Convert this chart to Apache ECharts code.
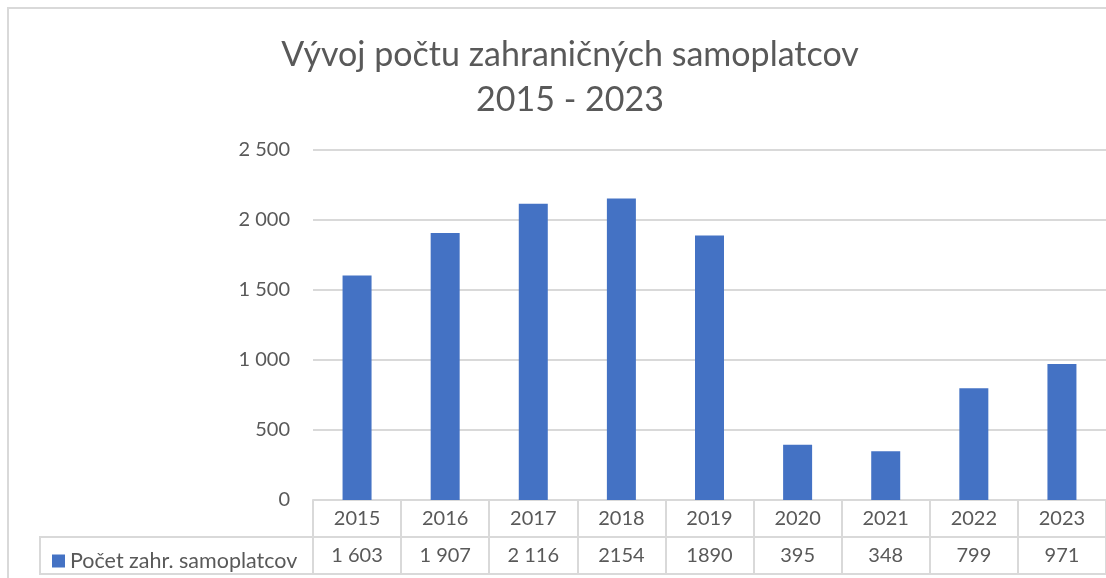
<!DOCTYPE html>
<html>
<head>
<meta charset="utf-8">
<script src="https://cdn.jsdelivr.net/npm/echarts@6/dist/echarts.min.js"></script>
<style>
  html, body { margin: 0; padding: 0; background: #fff; }
  #chart { width: 1106px; height: 578px; }
</style>
</head>
<body>
<div id="chart"></div>
<script>
  // data
  var years = ['2015', '2016', '2017', '2018', '2019', '2020', '2021', '2022', '2023']
  var counts = [1603, 1907, 2116, 2154, 1890, 395, 348, 799, 971]
  // the table row prints the numbers as they were typed in the sheet
  var tableLabels = ['1 603', '1 907', '2 116', '2154', '1890', '395', '348', '799', '971']
  var seriesName = 'Počet zahr. samoplatcov'

  var textColor = '#595959'
  var lineColor = '#d9d9d9'
  var font = 'Lato'

  function spaced(v) {
    return String(v).replace(/\B(?=(\d{3})+(?!\d))/g, ' ')
  }

  var chart = echarts.init(document.getElementById('chart'))
  chart.setOption({
    animation: false,
    textStyle: { fontFamily: font },
    title: {
      text: 'Vývoj počtu zahraničných samoplatcov\n2015 - 2023',
      left: 565,
      top: 28,
      textAlign: 'center',
      textStyle: {
        fontFamily: font,
        fontWeight: 'normal',
        fontSize: 34,
        lineHeight: 45,
        color: textColor
      }
    },
    legend: {
      data: [seriesName],
      left: 47,
      top: 545,
      icon: 'rect',
      itemWidth: 13,
      itemHeight: 13,
      itemGap: 7,
      textStyle: { fontFamily: font, fontSize: 21.5, color: textColor }
    },
    graphic: [
      {
        // outer chart border
        type: 'rect',
        shape: { x: 8, y: 8, width: 1300, height: 700 },
        style: { fill: 'none', stroke: lineColor, lineWidth: 2 },
        silent: true
      },
      {
        // legend cell of the data table
        type: 'rect',
        shape: { x: 40, y: 537, width: 273, height: 37 },
        style: { fill: 'none', stroke: lineColor, lineWidth: 2 },
        silent: true
      }
    ],
    grid: [
      { left: 313, top: 150, width: 801, height: 350 },
      { left: 313, top: 500, width: 801, height: 74 }
    ],
    xAxis: [
      {
        type: 'category',
        gridIndex: 0,
        data: years,
        axisLine: { show: true, lineStyle: { color: lineColor, width: 2 } },
        axisTick: { show: false },
        axisLabel: { margin: 9, fontSize: 20, color: textColor, interval: 0 }
      },
      {
        type: 'category',
        gridIndex: 1,
        data: years,
        position: 'bottom',
        axisLine: { show: false },
        axisTick: { show: false },
        axisLabel: {
          inside: true,
          margin: 8,
          fontSize: 20,
          color: textColor,
          interval: 0,
          formatter: function (v, i) { return tableLabels[i] }
        },
        splitLine: { show: true, interval: 0, lineStyle: { color: lineColor, width: 2 } }
      }
    ],
    yAxis: [
      {
        type: 'value',
        gridIndex: 0,
        min: 0,
        max: 2500,
        interval: 500,
        axisLine: { show: false },
        axisTick: { show: false },
        axisLabel: { margin: 23, fontSize: 20, color: textColor, formatter: spaced },
        splitLine: { lineStyle: { color: lineColor, width: 2 } }
      },
      {
        type: 'category',
        gridIndex: 1,
        data: ['rok', 'pocet'],
        inverse: true,
        axisLine: { show: false },
        axisTick: { show: false },
        axisLabel: { show: false },
        splitLine: { show: true, interval: 0, lineStyle: { color: lineColor, width: 2 } }
      }
    ],
    series: [
      {
        name: seriesName,
        type: 'bar',
        xAxisIndex: 0,
        yAxisIndex: 0,
        barWidth: 29,
        itemStyle: { color: '#4472C4' },
        data: counts
      }
    ]
  })
</script>
</body>
</html>
